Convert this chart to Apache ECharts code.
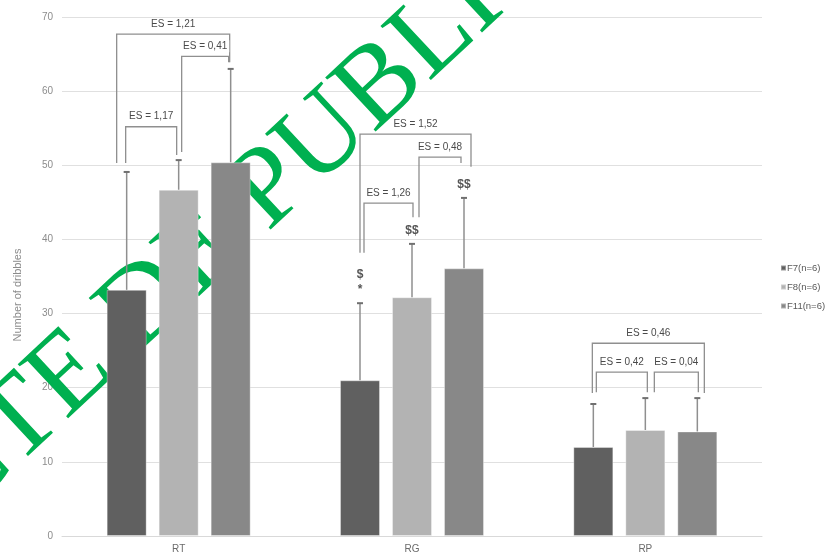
<!DOCTYPE html>
<html><head><meta charset="utf-8">
<script src="https://cdn.jsdelivr.net/npm/echarts@6/dist/echarts.min.js"></script>
<style>html,body{margin:0;padding:0;background:#fff}#c{width:835px;height:554px}</style>
</head><body><div id="c"></div>
<script>
// ---- data ----
const categories = ['RT', 'RG', 'RP'];
const seriesNames = ['F7(n=6)', 'F8(n=6)', 'F11(n=6)'];
const meanF7 = [33.2, 21.0, 12.0];
const meanF8 = [46.7, 32.2, 14.3];
const meanF11 = [50.4, 36.1, 14.1];
const sdF7 = [15.9, 10.4, 5.8];
const sdF8 = [4.0, 7.2, 4.3];
const sdF11 = [12.6, 9.5, 4.5];
const yMin = 0, yMax = 70, yStep = 10;
const yAxisTitle = 'Number of dribbles';

// effect-size brackets
const esText = ['ES = 1,21', 'ES = 0,41', 'ES = 1,17', 'ES = 1,52', 'ES = 0,48', 'ES = 1,26', 'ES = 0,46', 'ES = 0,42', 'ES = 0,04'];
const esCategory = [0, 0, 0, 1, 1, 1, 2, 2, 2];
const esFrom = [0, 1, 0, 0, 1, 0, 0, 0, 1];
const esTo = [2, 2, 1, 2, 2, 1, 2, 1, 2];
const esTop = [67.7, 64.7, 55.2, 54.2, 51.1, 44.9, 26.0, 22.1, 22.1];
const esLeftEnd = [50.3, 51.8, 50.3, 38.2, 43.0, 38.2, 19.3, 19.4, 19.4];
const esRightEnd = [63.9, 63.9, 51.4, 49.8, 50.3, 43.0, 19.3, 19.4, 19.4];

// significance markers
const sigCategory = [1, 1, 1];
const sigSeries = [0, 1, 2];
const sigText = ['$\n*', '$$', '$$'];

const watermarkText = 'RETRACTE DE PUBLICATION';

// ---- layout / style ----
const BAR_W = 40, BAR_STEP = 52;
const legNudgeL = [-10, 3, -1, 0, 7, 4, -1, 3, 9];
const legNudgeR = [-1, -2, -2, 7, -3, 1, 7, 2, 1];
const barColors = ['#606060', '#b3b3b3', '#888888'];
const lineGray = '#8f8f8f';

const means = [meanF7, meanF8, meanF11];
const sds = [sdF7, sdF8, sdF11];

const errData = [];
means.forEach((arr, s) => arr.forEach((m, c) => errData.push([c, s, m, sds[s][c]])));
const esData = esText.map((t, i) => [esCategory[i], esTop[i]]);
const sigData = sigText.map((t, i) => [sigCategory[i], sigSeries[i]]);

const chart = echarts.init(document.getElementById('c'), null, {renderer: 'canvas'});

const barSeries = seriesNames.map((n, s) => ({
  name: n, type: 'bar', data: means[s], barWidth: BAR_W, barGap: '30%',
  itemStyle: {color: barColors[s], borderColor: 'rgba(255,255,255,0.35)', borderWidth: 1},
  z: 2
}));

const option = {
  animation: false,
  backgroundColor: '#fff',
  grid: {left: 62, right: 73, top: 17, bottom: 18},
  legend: {
    orient: 'vertical', left: 775, top: 258, itemWidth: 5, itemHeight: 5, itemGap: 9,
    icon: 'rect', data: seriesNames,
    textStyle: {fontSize: 9.5, color: '#595959', fontFamily: 'Liberation Sans', padding: [0, 0, 0, -4]}
  },
  xAxis: {
    type: 'category', data: categories,
    axisTick: {show: false},
    axisLine: {lineStyle: {color: '#d9d9d9', width: 1}},
    axisLabel: {color: '#6b6b6b', fontSize: 10, margin: 8, fontFamily: 'Liberation Sans'}
  },
  yAxis: {
    type: 'value', min: yMin, max: yMax, interval: yStep,
    axisLine: {show: false}, axisTick: {show: false},
    axisLabel: {color: '#8c8c8c', fontSize: 10, margin: 9, fontFamily: 'Liberation Sans'},
    splitLine: {lineStyle: {color: '#e0e0e0', width: 1}}
  },
  graphic: [
    {
      type: 'text', x: 18, y: 295, rotation: Math.PI / 2, z: 1,
      style: {text: yAxisTitle, fill: '#8c8c8c', font: '11px "Liberation Sans"', align: 'center', verticalAlign: 'middle'}
    },
    {
      type: 'text', x: -331, y: 750, rotation: 43 * Math.PI / 180, z: 1,
      style: {text: watermarkText, fill: '#00b050', font: '113px "Liberation Serif"', align: 'left', verticalAlign: 'middle'}
    }
  ],
  series: barSeries.concat([
    {
      type: 'custom', name: 'err', data: errData, z: 3, silent: true,
      encode: {x: 0, y: 2},
      renderItem: function (params, api) {
        const c = api.value(0), s = api.value(1), m = api.value(2), sd = api.value(3);
        const b = api.coord([c, m]);
        const t = api.coord([c, m + sd]);
        const x = b[0] + (s - 1) * BAR_STEP;
        return {type: 'group', children: [
          {type: 'line', shape: {x1: x, y1: b[1], x2: x, y2: t[1]}, style: {stroke: lineGray, lineWidth: 1.5}},
          {type: 'line', shape: {x1: x - 3, y1: t[1], x2: x + 3, y2: t[1]}, style: {stroke: '#707070', lineWidth: 2}}
        ]};
      }
    },
    {
      type: 'custom', name: 'es', data: esData, z: 4, silent: true,
      encode: {x: 0, y: 1},
      renderItem: function (params, api) {
        const i = params.dataIndex;
        const cx = api.coord([esCategory[i], 0])[0];
        const xl = cx + (esFrom[i] - 1) * BAR_STEP + legNudgeL[i];
        const xr = cx + (esTo[i] - 1) * BAR_STEP + legNudgeR[i];
        const yT = api.coord([esCategory[i], esTop[i]])[1];
        const yL = api.coord([esCategory[i], esLeftEnd[i]])[1];
        const yR = api.coord([esCategory[i], esRightEnd[i]])[1];
        return {type: 'group', children: [
          {type: 'polyline', z2: 0, shape: {points: [[xl, yL], [xl, yT], [xr, yT], [xr, yR]]},
            style: {stroke: lineGray, lineWidth: 1.3, fill: null}},
          {type: 'text', z2: 10 + i, x: (xl + xr) / 2, y: yT - 10,
            style: {text: esText[i], fill: '#4a4a4a', font: '10px "Liberation Sans"', align: 'center', verticalAlign: 'middle',
              backgroundColor: '#ffffff', padding: [1, 2]}}
        ]};
      }
    },
    {
      type: 'custom', name: 'sig', data: sigData, z: 4, silent: true,
      encode: {x: 0, y: 1},
      renderItem: function (params, api) {
        const i = params.dataIndex;
        const c = sigCategory[i], s = sigSeries[i];
        const m = means[s][c] + sds[s][c];
        const p = api.coord([c, m]);
        const x = p[0] + (s - 1) * BAR_STEP;
        return {type: 'text', x: x, y: p[1] - 6,
          style: {text: sigText[i], fill: '#555555', font: 'bold 12px "Liberation Sans"', align: 'center', verticalAlign: 'bottom',
            lineHeight: 15, backgroundColor: '#ffffff'}};
      }
    }
  ])
};
chart.setOption(option);
</script>
</body></html>
